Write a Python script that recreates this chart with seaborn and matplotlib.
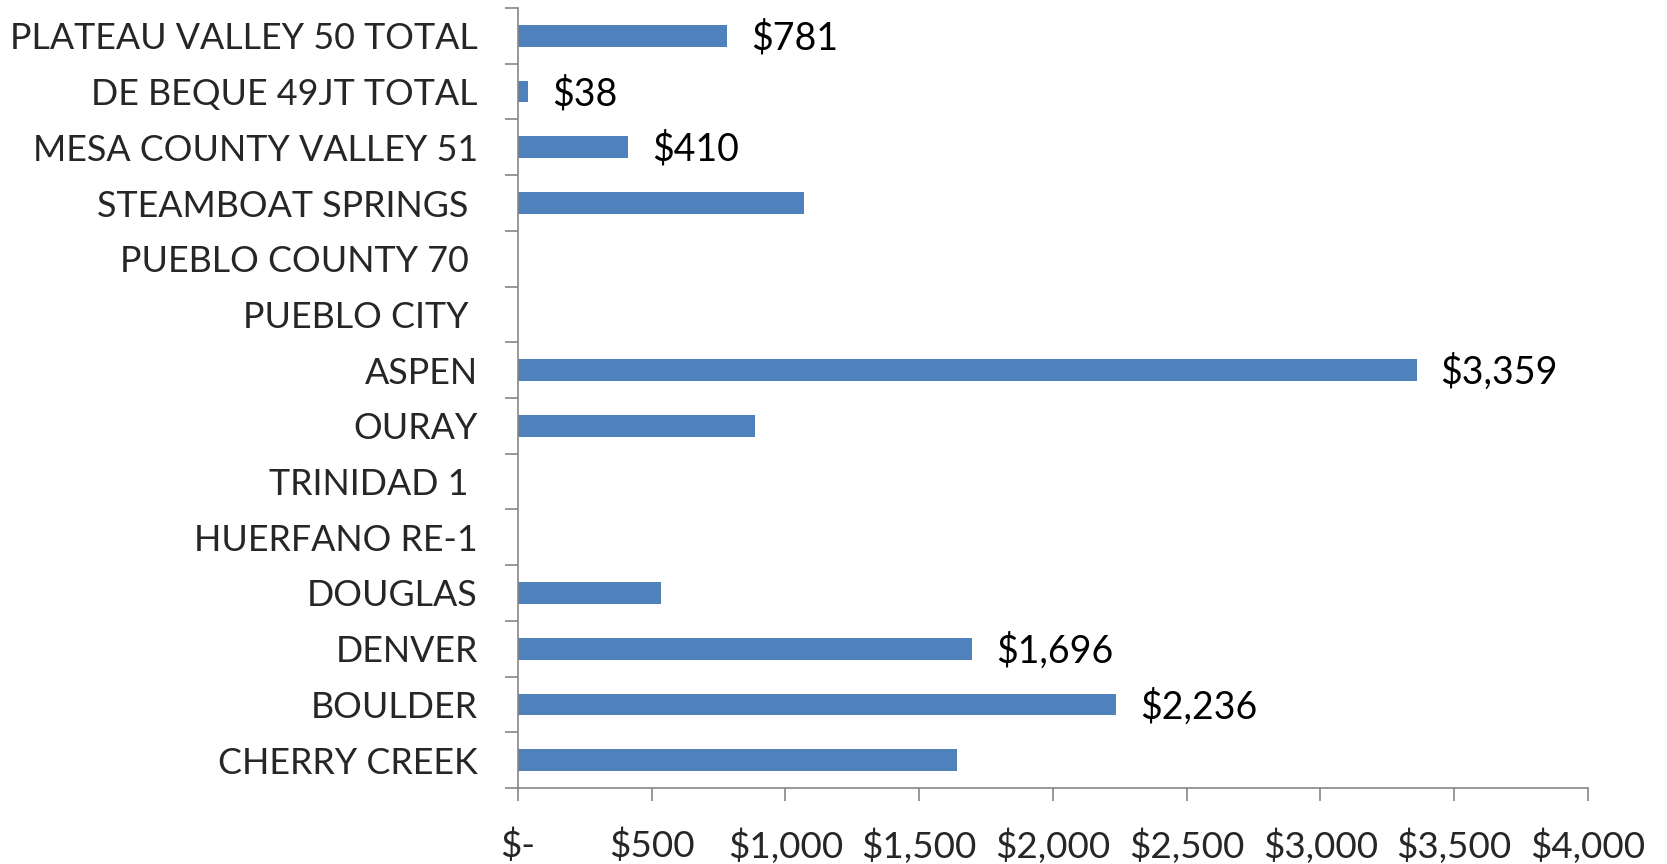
import matplotlib
matplotlib.use("Agg")
import matplotlib.pyplot as plt
import matplotlib.ticker as mticker
import pandas as pd
import seaborn as sns

# districts, top to bottom as in the chart
districts = ["PLATEAU VALLEY 50 TOTAL", "DE BEQUE 49JT TOTAL", "MESA COUNTY VALLEY 51",
             "STEAMBOAT SPRINGS ", "PUEBLO COUNTY 70 ", "PUEBLO CITY ", "ASPEN", "OURAY",
             "TRINIDAD 1 ", "HUERFANO RE-1", "DOUGLAS", "DENVER", "BOULDER", "CHERRY CREEK"]
amounts = [781, 38, 410, 1068, 0, 0, 3359, 885, 0, 0, 535, 1696, 2236, 1640]
# only some bars carry a value label
shown = [True, True, True, False, False, False, True, False, False, False, False, True, True, False]
x_ticks = [0, 500, 1000, 1500, 2000, 2500, 3000, 3500, 4000]

df = pd.DataFrame({"district": districts, "amount": amounts})

sns.set_style("white")
plt.rcParams["font.family"] = ["Lato", "DejaVu Sans"]

fig = plt.figure(figsize=(16.67, 8.64), dpi=100)
ax = fig.add_axes([0.3107, 0.088, 0.9526 - 0.3107, 0.9907 - 0.088])

sns.barplot(data=df, x="amount", y="district", orient="h", color="#4F81BD",
            saturation=1, width=0.39, linewidth=0, ax=ax)

# value labels
for i, (v, s) in enumerate(zip(amounts, shown)):
    if s:
        ax.text(v + 90, i + 0.04, f"${v:,}", va="center", ha="left", fontsize=27, color="black")

ax.set_xlim(0, 4000)
ax.set_ylim(len(districts) - 0.5, -0.5)
ax.set_xticks(x_ticks)
ax.xaxis.set_major_formatter(mticker.FuncFormatter(lambda v, p: "$-" if v == 0 else f"${v:,.0f}"))
ax.set_xlabel("")
ax.set_ylabel("")

# y tick marks sit between the categories
ax.set_yticks([i - 0.5 for i in range(len(districts) + 1)], minor=True)
ax.tick_params(axis="y", which="major", left=False, length=0, pad=29, labelsize=25.8)
ax.tick_params(axis="y", which="minor", left=True, length=9.4, width=1.2, color="#868686",
               direction="out")
ax.tick_params(axis="x", which="major", bottom=True, length=9.4, width=1.2, color="#868686",
               direction="out", pad=20, labelsize=26.5)

for side in ["top", "right"]:
    ax.spines[side].set_visible(False)
for side in ["left", "bottom"]:
    ax.spines[side].set_color("#868686")
    ax.spines[side].set_linewidth(1.2)

plt.savefig("out.png", dpi=100)
